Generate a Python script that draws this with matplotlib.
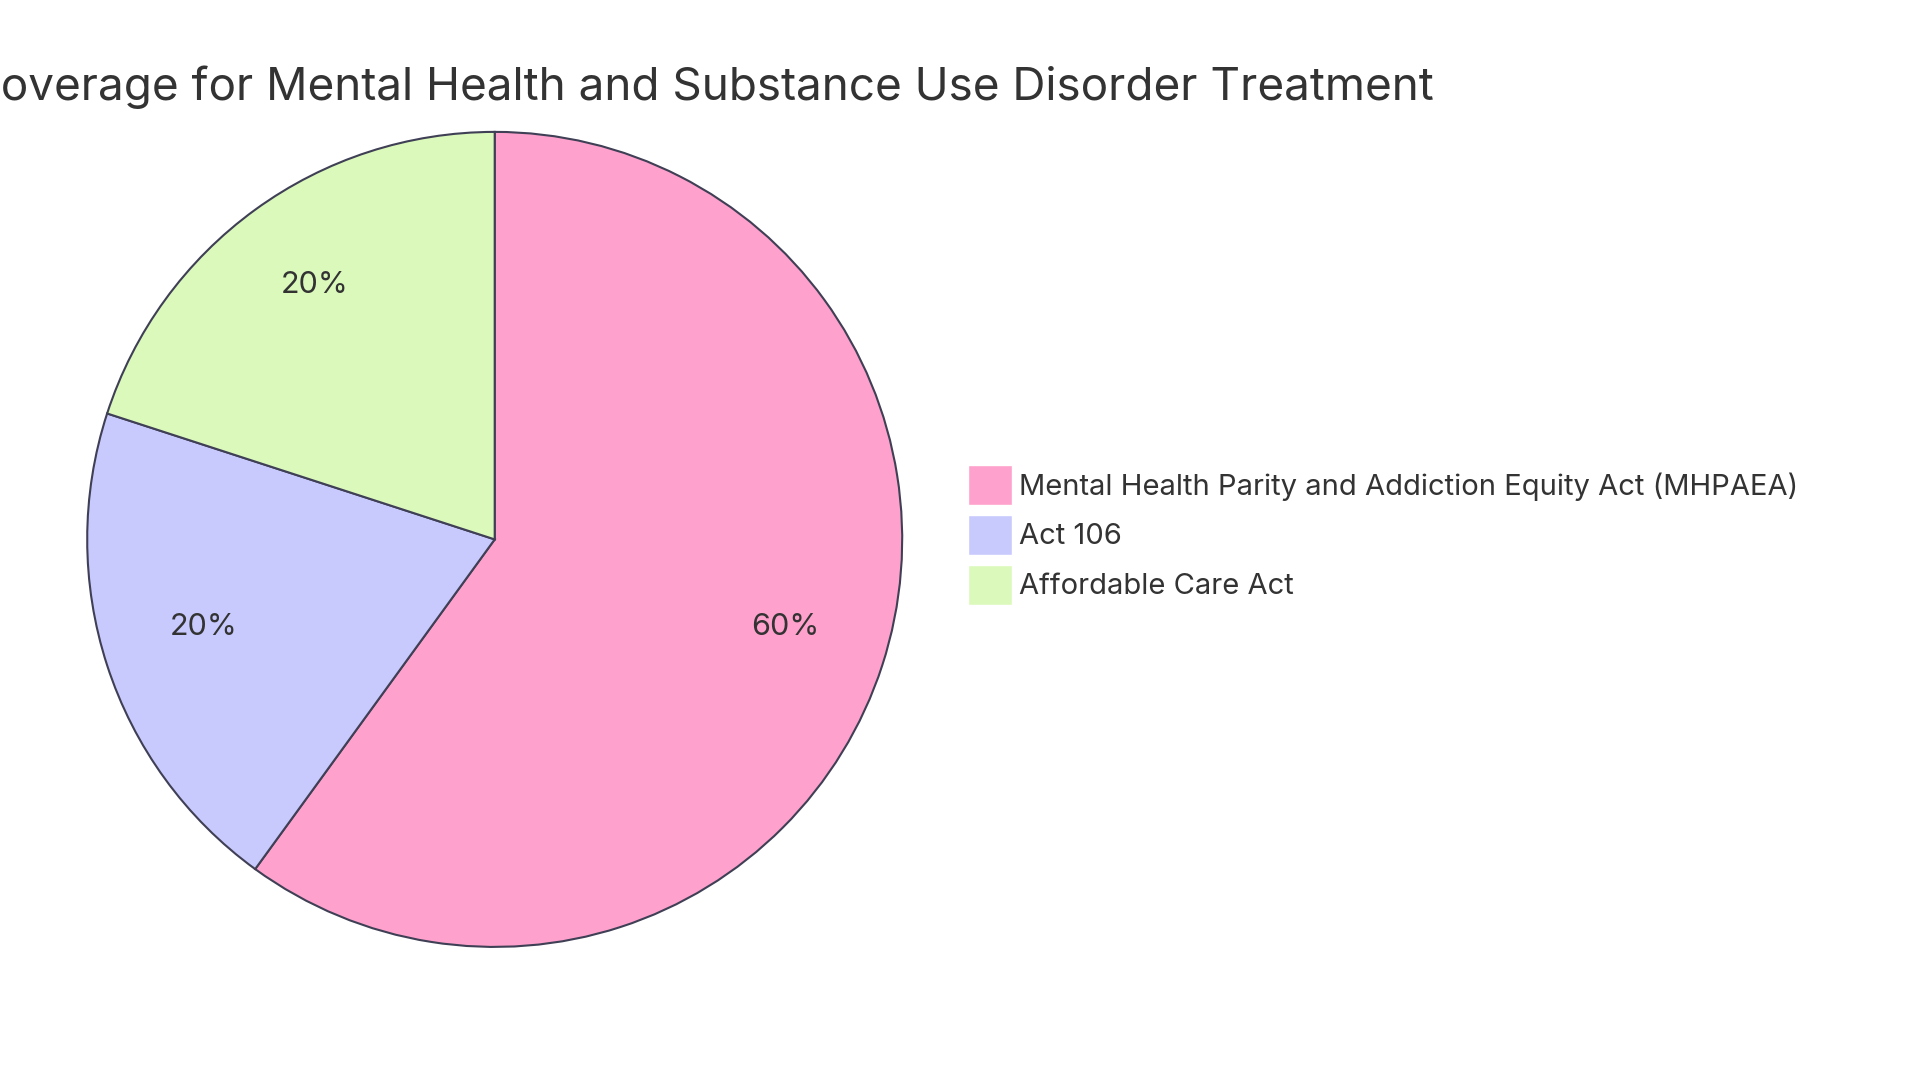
import matplotlib
matplotlib.use("Agg")
import matplotlib.pyplot as plt
from matplotlib.patches import Patch

title = "Insurance Coverage for Mental Health and Substance Use Disorder Treatment"
labels = ["Mental Health Parity and Addiction Equity Act (MHPAEA)", "Act 106", "Affordable Care Act"]
values = [60, 20, 20]
colors = ["#FEA1CC", "#C8CAFE", "#DBF9BB"]

plt.rcParams['font.family'] = ['Inter', 'DejaVu Sans']
W, H = 1920, 1080
fig = plt.figure(figsize=(W / 100, H / 100), dpi=100)

cx, cy, r = 494.7, 1080 - 539.4, 407.5
lim = 1.05
ax = fig.add_axes([(cx - r * lim) / W, (cy - r * lim) / H, 2 * r * lim / W, 2 * r * lim / H])
wedges, texts, autotexts = ax.pie(
    values, colors=colors, startangle=90, counterclock=False,
    autopct=lambda p: f"{p:.0f}%", pctdistance=0.75, radius=1,
    wedgeprops=dict(edgecolor="#3F3F55", linewidth=1.5),
    textprops=dict(fontsize=22, color="#333333"))
for t in autotexts:
    x, y = t.get_position()
    t.set_position((x, y + 7 / r))
ax.set_xlim(-lim, lim)
ax.set_ylim(-lim, lim)
ax.set_aspect('equal')
ax.axis('off')

fig.text(1434 / W, (1080 - 100) / H, title, ha='right', va='baseline',
         fontsize=33, color="#333333")

handles = [Patch(facecolor=c, edgecolor='white', label=l) for c, l in zip(colors, labels)]
fig.legend(handles=handles, loc='center left', bbox_to_anchor=(968 / W, (1080 - 535) / H),
           frameon=False, fontsize=21, handlelength=1.5, handleheight=1.7,
           handletextpad=0.25, labelspacing=0.36, borderaxespad=0, borderpad=0,
           labelcolor="#333333")

fig.savefig("out.png", dpi=100)
